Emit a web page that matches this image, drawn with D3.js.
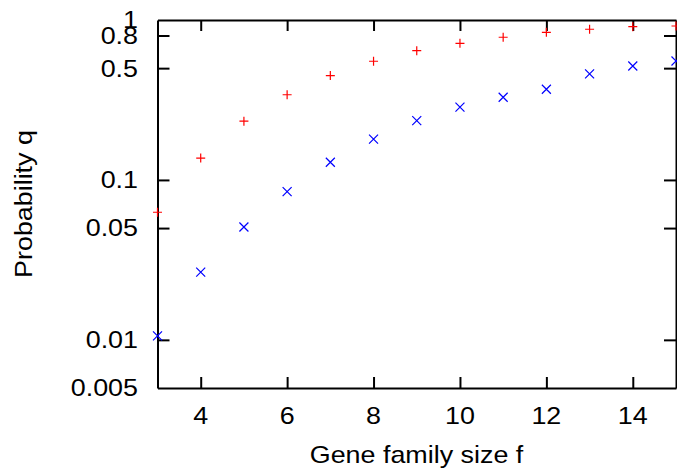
<!DOCTYPE html>
<html>
<head>
<meta charset="utf-8">
<script src="https://cdn.jsdelivr.net/npm/d3@7"></script>
<style>
  body { margin: 0; background: #fff; }
  svg { display: block; }
  text { font-family: "Liberation Sans", Arial, sans-serif; fill: #000; }
</style>
</head>
<body>
<div id="chart"></div>
<script>
const familySize = [3, 4, 5, 6, 7, 8, 9, 10, 11, 12, 13, 14, 15];
const qPlus = [0.0628, 0.137, 0.233, 0.341, 0.449, 0.552, 0.643, 0.715, 0.78, 0.838, 0.875, 0.908, 0.917];
const qCross = [0.0106, 0.0265, 0.0508, 0.0845, 0.129, 0.18, 0.235, 0.285, 0.329, 0.369, 0.46, 0.516, 0.554];
const xTicks = [4, 6, 8, 10, 12, 14];
const yTickMarks = [0.01, 0.05, 0.1, 0.5, 0.8];
const yTickLabels = [0.005, 0.01, 0.05, 0.1, 0.5, 0.8, 1];

const w = 677;
const h = 468;
const plotLeft = 157.5;
const plotRight = 676;
const plotTop = 20;
const plotBottom = 388;
const stretch = 1.12;

const svg = d3
  .select("#chart")
  .append("svg")
  .attr("width", w)
  .attr("height", h);

const xScale = d3.scaleLinear().domain([3, 15]).range([plotLeft, plotRight]);
const yScale = d3.scaleLog().domain([0.005, 1]).range([plotBottom, plotTop]);

// frame with inward ticks on all four sides
const axisStyle = (g) => {
  g.selectAll("path").attr("stroke", "#000").attr("stroke-width", 2);
  g.selectAll("line").attr("stroke", "#000").attr("stroke-width", 2);
  g.selectAll("text").remove();
};
svg
  .append("g")
  .attr("transform", `translate(0,${plotBottom})`)
  .call(d3.axisBottom(xScale).tickValues(xTicks).tickSizeInner(-11).tickSizeOuter(0))
  .call(axisStyle);
svg
  .append("g")
  .attr("transform", `translate(0,${plotTop})`)
  .call(d3.axisTop(xScale).tickValues(xTicks).tickSizeInner(-11).tickSizeOuter(0))
  .call(axisStyle);
svg
  .append("g")
  .attr("transform", `translate(${plotLeft},0)`)
  .call(d3.axisLeft(yScale).tickValues(yTickMarks).tickSizeInner(-12).tickSizeOuter(0))
  .call(axisStyle);
svg
  .append("g")
  .attr("transform", `translate(${plotRight},0)`)
  .call(d3.axisRight(yScale).tickValues(yTickMarks).tickSizeInner(-12).tickSizeOuter(0))
  .call(axisStyle);

// tick labels
svg
  .selectAll(".xlabel")
  .data(xTicks)
  .enter()
  .append("text")
  .attr("class", "xlabel")
  .attr("transform", (d) => `translate(${xScale(d)},424) scale(${stretch},1)`)
  .attr("text-anchor", "middle")
  .style("font-size", "24px")
  .text((d) => d);
svg
  .selectAll(".ylabel")
  .data(yTickLabels)
  .enter()
  .append("text")
  .attr("class", "ylabel")
  .attr("transform", (d) => `translate(138,${yScale(d)}) scale(${stretch},1)`)
  .attr("text-anchor", "end")
  .attr("dy", "0.35em")
  .style("font-size", "24px")
  .text((d) => d);

// axis titles
svg
  .append("text")
  .attr("transform", `translate(416.5,463) scale(${stretch},1)`)
  .attr("text-anchor", "middle")
  .style("font-size", "24px")
  .text("Gene family size f");
svg
  .append("text")
  .attr("transform", `translate(32,204) rotate(-90) scale(${stretch},1)`)
  .attr("text-anchor", "middle")
  .style("font-size", "24px")
  .text("Probability q");

// points
const s = 4.5;
svg
  .selectAll(".plus")
  .data(familySize)
  .enter()
  .append("path")
  .attr("class", "plus")
  .attr("transform", (d, i) => `translate(${xScale(d)},${yScale(qPlus[i])})`)
  .attr("d", `M${-s},0H${s}M0,${-s}V${s}`)
  .attr("stroke", "#ff0000")
  .attr("stroke-width", 1.2)
  .attr("fill", "none");
svg
  .selectAll(".cross")
  .data(familySize)
  .enter()
  .append("path")
  .attr("class", "cross")
  .attr("transform", (d, i) => `translate(${xScale(d)},${yScale(qCross[i])})`)
  .attr("d", `M${-s},${-s}L${s},${s}M${-s},${s}L${s},${-s}`)
  .attr("stroke", "#0000ff")
  .attr("stroke-width", 1.2)
  .attr("fill", "none");
</script>
</body>
</html>
